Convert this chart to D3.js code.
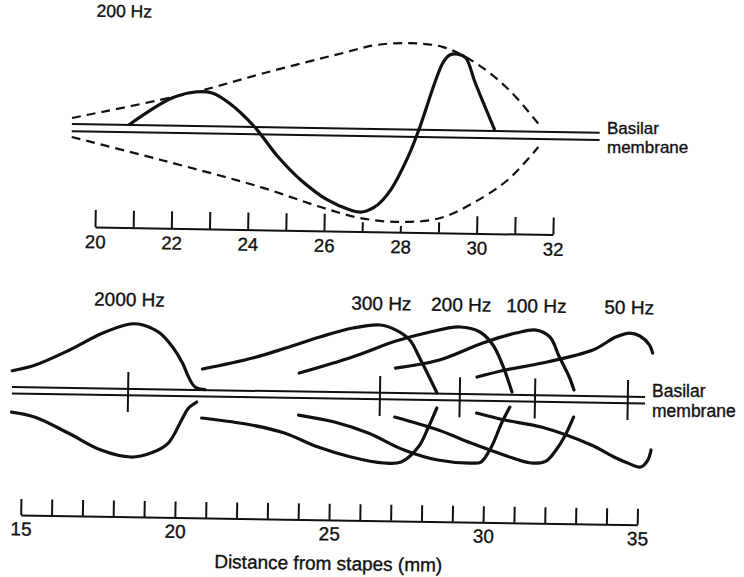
<!DOCTYPE html>
<html lang="en">
<head>
<meta charset="UTF-8" />
<title>Basilar membrane travelling waves</title>
<script src="https://d3js.org/d3.v7.min.js"></script>
<style>
  body { margin: 0; background: #fff; }
  svg text { font-family: "Liberation Sans", Arial, sans-serif; fill: #111; stroke: #111; stroke-width: 0.35px; }
</style>
</head>
<body>
<div id="chart"></div>
<script>
// ---- top panel: one 200 Hz wave (distance in mm, displacement relative to envelope peak)
const topTicks = d3.range(20, 33);
const topLabels = [20, 22, 24, 26, 28, 30, 32];
const topMembrane = [19.35, 33.18];
const wave200 = [
  [20.84, 0.04], [21.96, 0.347], [22.57, 0.418], [23.01, 0.41], [23.46, 0.302],
  [24.14, 0.04], [24.77, -0.289], [25.37, -0.54], [26.08, -0.757], [26.68, -0.864],
  [26.99, -0.884], [27.39, -0.803], [27.73, -0.634], [28.17, -0.264], [28.44, 0.037],
  [29.04, 0.786], [29.22, 0.876], [29.43, 0.888], [29.64, 0.846], [29.9, 0.57], [30.43, 0.051]
];
const envUpper = [
  [19.35, 0.107], [22.57, 0.418], [24.32, 0.636], [26.42, 0.879], [27.28, 0.973],
  [28.17, 1.0], [29.04, 0.963], [29.9, 0.792], [30.79, 0.498], [31.66, 0.082]
];
const envLower = [
  [19.35, -0.104], [21.7, -0.343], [24.32, -0.626], [25.9, -0.837], [26.94, -0.951],
  [27.99, -0.988], [29.04, -0.937], [29.9, -0.763], [30.79, -0.502], [31.58, -0.13]
];

// ---- bottom panel: envelopes for five frequencies (mm, displacement)
const bottomTicks = d3.range(15, 36);
const bottomLabels = [15, 20, 25, 30, 35];
const bottomMembrane = [14.65, 35.19];
const freqNames = ["2000 Hz", "300 Hz", "200 Hz", "100 Hz", "50 Hz"];
const peakMm = [18.42, 26.59, 29.18, 31.62, 34.63];

const upper2000 = [[14.65, 19.5], [15.4, 25.6], [16.5, 41.1], [17.57, 58.6], [18.45, 68.1], [18.87, 67.3],
  [19.42, 59.5], [19.84, 45.7], [20.17, 29.9], [20.39, 15], [20.59, 6.1], [20.91, 3.6]];
const lower2000 = [[14.65, -21.8], [15.4, -26.4], [16.5, -41.9], [17.57, -58.4], [18.54, -64.9], [19.19, -60.6],
  [19.75, -50.3], [20.17, -27.1], [20.39, -15], [20.65, -8.9]];
const upper300 = [[20.82, 24.2], [22.44, 36], [23.51, 46.5], [24.61, 58.1], [25.68, 67.6], [26.56, 71],
  [27.08, 66.2], [27.53, 56.5], [27.86, 38.6], [28.18, 19.8], [28.44, 3.9]];
const lower300 = [[20.82, -24.8], [22.44, -31], [23.51, -38.5], [24.61, -52], [25.68, -61.4], [26.75, -66.9],
  [27.31, -65.7], [27.86, -50.4], [28.18, -30.2], [28.44, -11.1]];
const upper200 = [[23.96, 21.7], [25.68, 38.6], [27.08, 55.2], [28.05, 63.7], [29.15, 70.3], [29.8, 65.6],
  [30.23, 52.8], [30.55, 33], [30.87, 6.1]];
const lower200 = [[23.96, -20.3], [25.13, -26.7], [26.23, -37.2], [27.4, -53.6], [28.5, -63.1], [29.57, -65.6],
  [29.9, -64.4], [30.23, -49.2], [30.55, -25.1], [30.81, -9]];
const upper100 = [[27.08, 28.2], [28.5, 36.9], [29.9, 54.6], [30.97, 65.1], [31.62, 68.4], [32.07, 61.7],
  [32.39, 41.8], [32.72, 22], [32.88, 9.1]];
const lower100 = [[27.08, -20.8], [28.5, -33.1], [29.57, -45.6], [30.64, -57], [31.52, -64.6], [32.01, -62.4],
  [32.33, -51.2], [32.59, -38.1], [32.88, -18]];
const upper50 = [[29.73, 20.5], [30.64, 28], [31.84, 35.6], [33.47, 49.3], [34.21, 62.7], [34.66, 66.9],
  [34.99, 64.1], [35.31, 55.2], [35.41, 47.3]];
const lower50 = [[29.73, -15.5], [30.64, -22], [31.84, -28.5], [33.47, -45.7], [34.21, -57.3], [34.66, -63.1],
  [35.08, -66.9], [35.31, -59.8], [35.41, -49.7]];

const upperCurves = [upper2000, upper300, upper200, upper100, upper50];
const lowerCurves = [lower2000, lower300, lower200, lower100, lower50];

const width = 744, height = 577;
const ink = "#111";
const font = "'Liberation Sans', Arial, sans-serif";

const svg = d3.select("#chart").append("svg")
  .attr("width", width).attr("height", height)
  .style("background", "#fff");

// linear lookup along a curve, used to stop axis ticks under the dashed envelope
function lookup(pts, v) {
  for (let i = 1; i < pts.length; i++) {
    if (v <= pts[i][0]) {
      const t = (v - pts[i - 1][0]) / (pts[i][0] - pts[i - 1][0]);
      return pts[i - 1][1] + t * (pts[i][1] - pts[i - 1][1]);
    }
  }
  return 0;
}

function styleAxis(g, size) {
  g.attr("font-size", size).attr("font-family", font);
  g.selectAll("path, line").attr("stroke", ink).attr("stroke-width", 2);
  g.selectAll("text").attr("fill", ink);
}

// ================= top panel =================
const topAxisY = 227;
const xTop = d3.scaleLinear().domain([20, 32]).range([95, 553]);
const yTop = d3.scaleLinear().domain([-1, 1]).range([218, 38]);
const gTop = svg.append("g").attr("transform", `rotate(0.95, 95, ${topAxisY})`);

const lineTop = d3.line().x(d => xTop(d[0])).y(d => yTop(d[1])).curve(d3.curveCatmullRom);

// membrane (two thin parallel lines)
[0.04, -0.04].forEach(off => {
  gTop.append("line")
    .attr("x1", xTop(topMembrane[0])).attr("x2", xTop(topMembrane[1]))
    .attr("y1", yTop(off)).attr("y2", yTop(off))
    .attr("stroke", ink).attr("stroke-width", 2);
});

[envUpper, envLower].forEach(env => {
  gTop.append("path").datum(env)
    .attr("d", lineTop)
    .attr("fill", "none").attr("stroke", ink)
    .attr("stroke-width", 2.2).attr("stroke-dasharray", "9,6");
});

gTop.append("path").datum(wave200)
  .attr("d", lineTop)
  .attr("fill", "none").attr("stroke", ink).attr("stroke-width", 3.2)
  .attr("stroke-linejoin", "round");

const axTop = gTop.append("g").attr("transform", `translate(0,${topAxisY})`)
  .call(d3.axisBottom(xTop).tickValues(topTicks).tickSizeInner(-17).tickSizeOuter(0).tickPadding(8)
    .tickFormat(d => topLabels.includes(d) ? d : ""));
styleAxis(axTop, 18.5);
axTop.selectAll(".tick line").attr("y2", d => {
  const envY = yTop(lookup(envLower, d)) + 4 - topAxisY;
  return Math.max(-17, Math.min(-4, envY));
});

gTop.append("text").attr("x", xTop(19.95)).attr("y", yTop(1.236))
  .attr("font-size", 17.5).text("200 Hz");

// membrane label (kept level, like the typeset label in the figure)
svg.append("text").attr("x", 607).attr("y", 133.5).attr("font-size", 17).text("Basilar");
svg.append("text").attr("x", 607).attr("y", 153).attr("font-size", 17).text("membrane");

// ================= bottom panel =================
const botAxisY = 515;
const xBot = d3.scaleLinear().domain([15, 35]).range([20.7, 637.3]);
const yBot = d3.scaleLinear().domain([-100, 100]).range([490.4, 290.4]);
const gBot = svg.append("g").attr("transform", `rotate(0.9, 20.7, ${botAxisY})`);

const lineBot = d3.line().x(d => xBot(d[0])).y(d => yBot(d[1])).curve(d3.curveCatmullRom);

[3.2, -3.2].forEach(off => {
  gBot.append("line")
    .attr("x1", xBot(bottomMembrane[0])).attr("x2", xBot(bottomMembrane[1]))
    .attr("y1", yBot(off)).attr("y2", yBot(off))
    .attr("stroke", ink).attr("stroke-width", 2);
});

upperCurves.concat(lowerCurves).forEach(c => {
  gBot.append("path").datum(c)
    .attr("d", lineBot)
    .attr("fill", "none").attr("stroke", ink).attr("stroke-width", 3.2)
    .attr("stroke-linecap", "round");
});

// peak markers across the membrane
gBot.selectAll(".peak").data(peakMm).join("line")
  .attr("class", "peak")
  .attr("x1", d => xBot(d)).attr("x2", d => xBot(d))
  .attr("y1", yBot(20)).attr("y2", yBot(-20))
  .attr("stroke", ink).attr("stroke-width", 2);

gBot.selectAll(".freq").data(freqNames).join("text")
  .attr("class", "freq")
  .attr("x", (d, i) => xBot(peakMm[i])).attr("y", yBot(86))
  .attr("text-anchor", "middle").attr("font-size", 19)
  .text(d => d);

svg.append("text").attr("x", 652).attr("y", 396.5).attr("font-size", 17.5).text("Basilar");
svg.append("text").attr("x", 652).attr("y", 416.5).attr("font-size", 17.5).text("membrane");

const axBot = gBot.append("g").attr("transform", `translate(0,${botAxisY})`)
  .call(d3.axisBottom(xBot).tickValues(bottomTicks).tickSizeInner(-16).tickSizeOuter(0).tickPadding(7)
    .tickFormat(d => bottomLabels.includes(d) ? d : ""));
styleAxis(axBot, 19);

gBot.append("text").attr("x", xBot(25)).attr("y", botAxisY + 50)
  .attr("text-anchor", "middle").attr("font-size", 19)
  .text("Distance from stapes (mm)");
</script>
</body>
</html>
